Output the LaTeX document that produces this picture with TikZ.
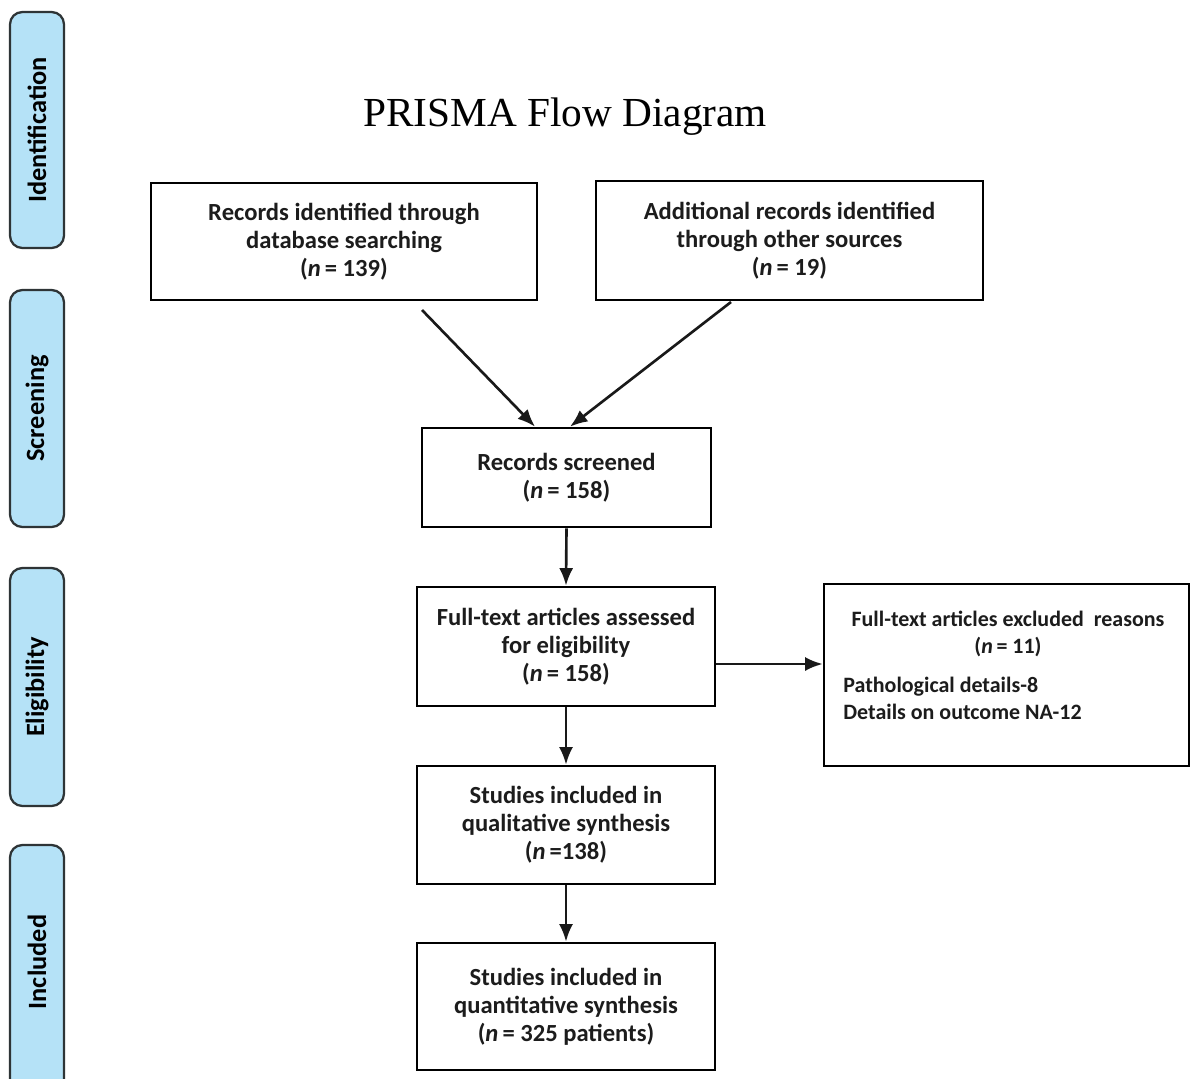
\documentclass[tikz,border=0pt]{standalone}
\usepackage{fontspec}
\setmainfont{Carlito}
\newfontfamily\titlefont{Liberation Serif}
\usetikzlibrary{arrows.meta,calc}
\definecolor{barblue}{HTML}{B5E2F7}
\definecolor{barline}{HTML}{2E3436}
\definecolor{txt}{HTML}{1C1C1C}
\tikzset{
  box/.style={draw=black, line width=1.5pt, fill=white, align=center, text=txt,
    font=\bfseries\fontsize{14}{15.9}\selectfont, inner sep=0pt},
  sidebar/.style={draw=barline, line width=1.3pt, fill=barblue, rounded corners=7pt,
    minimum width=1.08cm, inner sep=0pt},
  sidetext/.style={rotate=90, text=black, font=\bfseries\fontsize{15}{18}\selectfont},
  arr/.style={line width=1.5pt, draw=black!90, -{Latex[length=10pt,width=8pt]}},
  small/.style={text=txt, font=\bfseries\fontsize{12.5}{15.3}\selectfont, inner sep=0pt}
}
\begin{document}
\begin{tikzpicture}[x=0.02cm,y=-0.02cm]
\clip (0,0) rectangle (1191,1079);
\fill[white] (0,0) rectangle (1191,1079);
% side bars
\node[sidebar, minimum height=4.72cm] (idb) at (37,130) {};
\node[sidetext] (idt) at (idb) {Identification};
\node[sidebar, minimum height=4.74cm] (scb) at (37,408.5) {};
\node[sidetext] (sct) at (scb) {Screening};
\node[sidebar, minimum height=4.76cm] (elb) at (37,687) {};
\node[sidetext] (elt) at (elb) {Eligibility};
\node[sidebar, minimum height=5.1cm] (inb) at (37,972.5) {};
\node[sidetext] (int) at (37,962) {Included};
% title
\node[text=black, font=\titlefont\fontsize{23.5}{27}\selectfont] (title) at (565,117) {PRISMA Flow Diagram};
% boxes
\node[box, minimum width=7.72cm, minimum height=2.34cm] (b1) at (344,241.5)
  {Records identified through\\database searching\\({\itshape n}\,= 139)};
\node[box, minimum width=7.74cm, minimum height=2.38cm] (b2) at (789.5,240.5)
  {Additional records identified\\through other sources\\({\itshape n}\,= 19)};
\node[box, minimum width=5.78cm, minimum height=1.98cm] (b3) at (566.5,477.5)
  {Records screened\\({\itshape n}\,= 158)};
\node[box, minimum width=5.96cm, minimum height=2.38cm] (b4) at (566,646.5)
  {Full-text articles assessed\\for eligibility\\({\itshape n}\,= 158)};
\node[box, minimum width=7.30cm, minimum height=3.64cm] (b5) at (1006.5,675) {};
\node[small, align=center] (b5t) at (1008,634) {Full-text articles excluded\ \ reasons\\({\itshape n}\,= 11)};
\node[small, align=left, anchor=west] (b5l) at (843,698) {Pathological details-8\\Details on outcome NA-12};
\node[box, minimum width=5.96cm, minimum height=2.36cm] (b6) at (566,825)
  {Studies included in\\qualitative synthesis\\({\itshape n}\,=138)};
\node[box, minimum width=5.96cm, minimum height=2.54cm] (b7) at (566,1006.5)
  {Studies included in\\quantitative synthesis\\({\itshape n}\,= 325 patients)};
% connectors
\coordinate (s1) at (422,310);
\coordinate (s2) at (731,302);
\draw[arr] (s1) -- ([xshift=-0.63cm]b3.north);
\draw[arr] (s2) -- ([xshift=0.07cm]b3.north);
\draw[arr] (b3.south) -- (b4.north);
\draw[arr] ([yshift=-0.35cm]b4.east) -- ([yshift=-0.35cm]b4.east -| b5.west);
\draw[arr] (b4.south) -- (b6.north);
\draw[arr] (b6.south) -- (b7.north);
\end{tikzpicture}
\end{document}
